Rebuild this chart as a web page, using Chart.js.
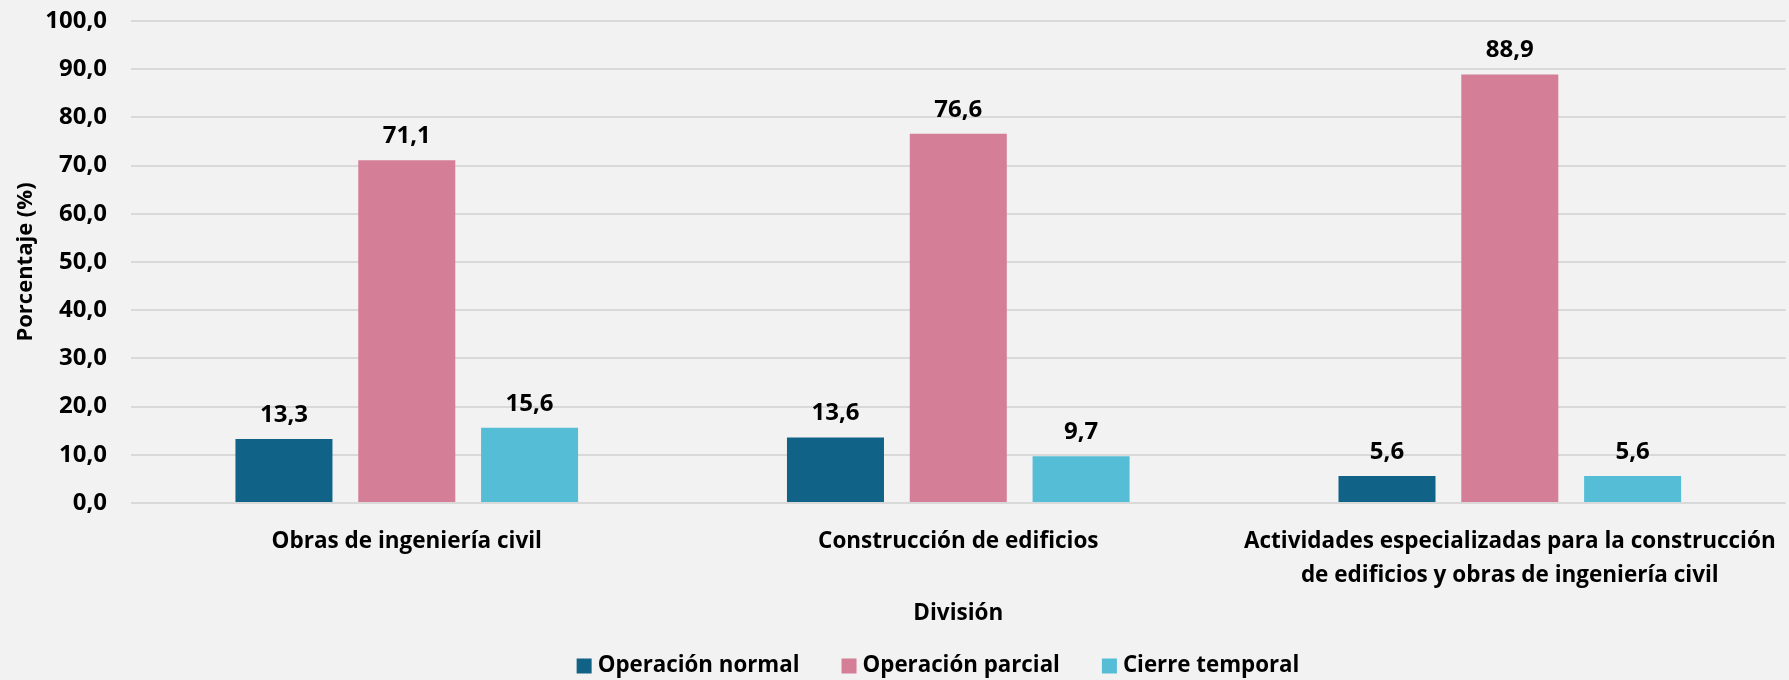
<!DOCTYPE html>
<html>
<head>
<meta charset="utf-8">
<script src="https://cdn.jsdelivr.net/npm/chart.js@4.4.0/dist/chart.umd.min.js"></script>
<style>
  html, body { margin: 0; padding: 0; background: #F2F2F2; }
  #wrap { width: 1789px; height: 680px; }
</style>
</head>
<body>
<div id="wrap"><canvas id="myChart"></canvas></div>
<script>
// datos
var categorias = [
    'Obras de ingeniería civil',
    'Construcción de edificios',
    ['Actividades especializadas para la construcción', 'de edificios y obras de ingeniería civil']
];
var serieNombres = ['Operación normal', 'Operación parcial', 'Cierre temporal'];
var operacionNormal = [13.3, 13.6, 5.6];
var operacionParcial = [71.1, 76.6, 88.9];
var cierreTemporal = [15.6, 9.7, 5.6];
var colores = ['#106387', '#D47E98', '#55BED6'];

var fuente = 'Open Sans';

function coma(v){
    return Number(v).toFixed(1).replace('.', ',');
}

// etiquetas encima de las barras
var etiquetas = {
    id: 'etiquetas',
    afterDatasetsDraw: function(chart){
        var ctx = chart.ctx;
        ctx.save();
        ctx.font = 'bold 24px "' + fuente + '"';
        ctx.fillStyle = '#000000';
        ctx.textAlign = 'center';
        ctx.textBaseline = 'middle';
        chart.data.datasets.forEach(function(ds, i){
            chart.getDatasetMeta(i).data.forEach(function(bar, j){
                ctx.fillText(coma(ds.data[j]), bar.x, bar.y - 24);
            });
        });
        ctx.restore();
    }
};

// leyenda dibujada a mano (cuadro pegado al texto como en el original)
var leyenda = {
    id: 'leyenda',
    afterDraw: function(chart){
        var ctx = chart.ctx;
        var caja = 15, sep = 6, entre = 42, centroX = 938, centroY = 666;
        ctx.save();
        ctx.font = 'bold 22.3px "' + fuente + '"';
        ctx.textBaseline = 'middle';
        ctx.textAlign = 'left';
        var anchos = chart.data.datasets.map(function(ds){ return ctx.measureText(ds.label).width; });
        var total = 0;
        anchos.forEach(function(a, i){ total += caja + sep + a + (i > 0 ? entre : 0); });
        var x = centroX - total / 2;
        chart.data.datasets.forEach(function(ds, i){
            ctx.fillStyle = ds.backgroundColor;
            ctx.fillRect(x, centroY - caja / 2, caja, caja);
            ctx.fillStyle = '#000000';
            ctx.fillText(ds.label, x + caja + sep, centroY);
            x += caja + sep + anchos[i] + entre;
        });
        ctx.restore();
    }
};

var ctx = document.getElementById('myChart').getContext('2d');
var chart = new Chart(ctx, {
    type: 'bar',
    data: {
        labels: categorias,
        datasets: [{
            label: serieNombres[0],
            data: operacionNormal,
            backgroundColor: colores[0]
        },{
            label: serieNombres[1],
            data: operacionParcial,
            backgroundColor: colores[1]
        },{
            label: serieNombres[2],
            data: cierreTemporal,
            backgroundColor: colores[2]
        }]
    },
    options: {
        responsive: true,
        maintainAspectRatio: false,
        animation: false,
        categoryPercentage: 0.668,
        barPercentage: 0.79,
        layout: {
            padding: { top: 0, right: 2, left: 0, bottom: 56 }
        },
        plugins: {
            tooltip: { enabled: false },
            legend: { display: false }
        },
        scales: {
            x: {
                afterFit: function(scale){ scale.height = 121; },
                grid: { display: false },
                border: { display: false },
                ticks: {
                    color: '#000000',
                    font: { family: fuente, size: 22.5, weight: 'bold', lineHeight: 1.52 },
                    maxRotation: 0,
                    autoSkip: false,
                    padding: 13
                },
                title: {
                    display: true,
                    text: 'División',
                    color: '#000000',
                    font: { family: fuente, size: 22.5, weight: 'bold' },
                    padding: { top: 0, bottom: -3 }
                }
            },
            y: {
                min: 0,
                max: 100,
                afterFit: function(scale){
                    scale.width = 131;
                    scale.paddingTop = 21;
                    scale.paddingBottom = 15;
                },
                grid: { color: '#D9D9D9', lineWidth: 2, drawTicks: false },
                border: { display: false },
                ticks: {
                    stepSize: 10,
                    color: '#000000',
                    font: { family: fuente, size: 24, weight: 'bold' },
                    padding: 24,
                    callback: function(v){ return coma(v); }
                },
                title: {
                    display: true,
                    text: 'Porcentaje (%)',
                    color: '#000000',
                    font: { family: fuente, size: 22, weight: 'bold' },
                    padding: { top: 13, bottom: 0 }
                }
            }
        }
    },
    plugins: [etiquetas, leyenda]
});
</script>
</body>
</html>
